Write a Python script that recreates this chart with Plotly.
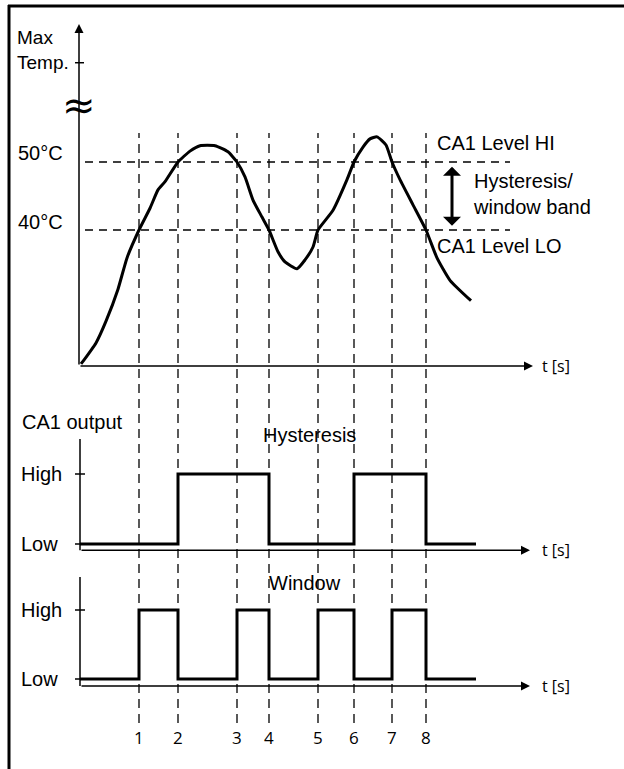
import plotly.graph_objects as go

W, H = 624, 769

# times where the temperature crosses a level (s)
event_t = [5.9, 9.8, 15.7, 18.9, 23.8, 27.4, 31.2, 34.6]
event_labels = ['1', '2', '3', '4', '5', '6', '7', '8']

# max temperature curve
temp_t = [0.1, 1.6, 2.6, 3.8, 4.7, 5.9, 7.0, 7.8, 8.5, 9.8, 11.0, 12.0, 13.5, 14.8,
          15.7, 16.5, 17.3, 18.2, 18.9, 19.8, 20.5, 21.7, 22.5, 23.3, 23.8, 25.3,
          26.7, 27.4, 28.3, 29.0, 29.7, 30.6, 31.2, 32.0, 33.3, 34.6, 35.7, 37.0, 39.1]
temp_c = [20.3, 23.4, 26.6, 31.3, 35.9, 40.0, 43.2, 45.9, 47.1, 50.0, 51.6, 52.4, 52.4, 51.5,
          50.0, 47.8, 44.4, 41.9, 40.0, 36.8, 35.3, 34.3, 35.6, 37.5, 40.0, 42.9,
          47.4, 50.0, 52.2, 53.4, 53.7, 52.5, 50.0, 47.4, 43.7, 40.0, 35.9, 32.6, 29.6]

level_hi = 50
level_lo = 40
level_labels = ['50°C', '40°C']

# CA1 output, 0 = Low, 1 = High
hyst_t = [0, 9.8, 18.9, 27.4, 34.6, 39.6]
hyst_state = [0, 1, 0, 1, 0, 0]
win_t = [0, 5.9, 9.8, 15.7, 18.9, 23.8, 27.4, 31.2, 34.6, 39.6]
win_state = [0, 1, 0, 1, 0, 1, 0, 1, 0, 0]

FONT = 'Liberation Sans, Arial, sans-serif'
FONT2 = 'Open Sans, DejaVu Sans, sans-serif'
BLACK = 'black'


def pfx(px):
    return px / W


def pfy(py):
    return 1 - py / H


fig = go.Figure()

# temperature
fig.add_trace(go.Scatter(x=temp_t, y=temp_c, mode='lines', line_shape='spline',
                         line=dict(color=BLACK, width=3, smoothing=0.5)))
for lv in [level_hi, level_lo]:
    fig.add_trace(go.Scatter(x=[0.5, 43.0], y=[lv, lv], mode='lines',
                             line=dict(color=BLACK, width=1.3, dash='8px,6px')))

# outputs
fig.add_trace(go.Scatter(x=hyst_t, y=hyst_state, yaxis='y2', mode='lines', line_shape='hv',
                         line=dict(color=BLACK, width=3)))
fig.add_trace(go.Scatter(x=win_t, y=win_state, yaxis='y3', mode='lines', line_shape='hv',
                         line=dict(color=BLACK, width=3)))

# vertical event lines
for t, lab in zip(event_t, event_labels):
    fig.add_shape(type='line', xref='x', yref='paper', x0=t, x1=t, y0=pfy(723), y1=pfy(133),
                  line=dict(color=BLACK, width=1.3, dash='9px,6px'))
    fig.add_annotation(x=t, y=pfy(737), xref='x', yref='paper', text=lab, showarrow=False,
                       xanchor='center', yanchor='middle',
                       font=dict(family=FONT2, size=17, color=BLACK))

# frame
fig.add_shape(type='line', xref='paper', yref='paper', x0=pfx(8), x1=pfx(640), y0=pfy(6), y1=pfy(6),
              line=dict(color=BLACK, width=3))
fig.add_shape(type='line', xref='paper', yref='paper', x0=pfx(9), x1=pfx(9), y0=pfy(5), y1=pfy(790),
              line=dict(color=BLACK, width=3))


def arrow(x0, y0, x1, y1, yref='y', width=1.5, size=1.2, head=2, side='end'):
    fig.add_annotation(x=x1, y=y1, ax=x0, ay=y0, xref='x', yref=yref, axref='x', ayref=yref,
                       text='', showarrow=True, arrowhead=head, arrowsize=size, arrowwidth=width,
                       arrowcolor=BLACK, arrowside=side, startarrowhead=head, startarrowsize=size,
                       standoff=0, startstandoff=0)


def seg(x0, y0, x1, y1, yref='y', width=1.5):
    fig.add_shape(type='line', xref='x', yref=yref, x0=x0, x1=x1, y0=y0, y1=y1,
                  line=dict(color=BLACK, width=width))


def text(x, y, s, yref='y', anchor='left', size=20, family=FONT, align='left'):
    fig.add_annotation(x=x, y=y, xref='x', yref=yref, text=s, showarrow=False, xanchor=anchor,
                       yanchor='middle', align=align, font=dict(family=family, size=size, color=BLACK))


# top axes
arrow(-0.1, 20, -0.1, 70.3)
arrow(-0.1, 20, 45.3, 20)
seg(-0.5, 64.6, 0.4, 64.6)
text(-0.1, 58.4, '≈', anchor='center', size=40, family='DejaVu Sans')
text(-6.5, 66.5, 'Max<br>Temp.', size=19)
text(-6.4, 51.3, level_labels[0])
text(-6.4, 41.2, level_labels[1])
text(46.0, 20, 't [s]', size=16, family=FONT2)
text(35.5, 52.8, 'CA1 Level HI')
text(35.5, 37.6, 'CA1 Level LO')
arrow(37.2, 40.4, 37.2, 49.3, width=3, size=1, head=1, side='end+start')
text(39.1, 45.3, 'Hysteresis/<br>window band')

# hysteresis axes
seg(0, -0.09, 0, 1.5, yref='y2')
arrow(0, -0.09, 45.0, -0.09, yref='y2')
seg(-0.5, 1, 0.5, 1, yref='y2')
seg(-0.5, 0, 0.5, 0, yref='y2')
text(-6.1, 1.0, 'High', yref='y2')
text(-6.1, 0.0, 'Low', yref='y2')
text(-6.0, 1.74, 'CA1 output', yref='y2')
text(22.9, 1.56, 'Hysteresis', yref='y2', anchor='center')
text(46.0, -0.09, 't [s]', yref='y2', size=16, family=FONT2)

# window axes
seg(0, -0.1, 0, 1.48, yref='y3')
arrow(0, -0.1, 45.0, -0.1, yref='y3')
seg(-0.5, 1, 0.5, 1, yref='y3')
seg(-0.5, 0, 0.5, 0, yref='y3')
text(-6.1, 1.0, 'High', yref='y3')
text(-6.1, 0.0, 'Low', yref='y3')
text(22.5, 1.39, 'Window', yref='y3', anchor='center')
text(46.0, -0.1, 't [s]', yref='y3', size=16, family=FONT2)

fig.update_layout(
    width=W, height=H, autosize=False,
    margin=dict(l=0, r=0, t=0, b=0),
    showlegend=False,
    plot_bgcolor='white', paper_bgcolor='white',
    xaxis=dict(range=[-8.0, 54.4], domain=[0, 1], visible=False),
    yaxis=dict(range=[40 - 539 / 6.8, 40 + 230 / 6.8], domain=[0, 1], visible=False),
    yaxis2=dict(range=[(544 - 769) / 70, 544 / 70], overlaying='y', visible=False),
    yaxis3=dict(range=[(679 - 769) / 69, 679 / 69], overlaying='y', visible=False),
)

# drop the page margin so the figure sits at the window corner
fig.write_html('out.html', config={'displayModeBar': False},
               post_script="document.body.style.margin='0';document.body.style.overflow='hidden';")
